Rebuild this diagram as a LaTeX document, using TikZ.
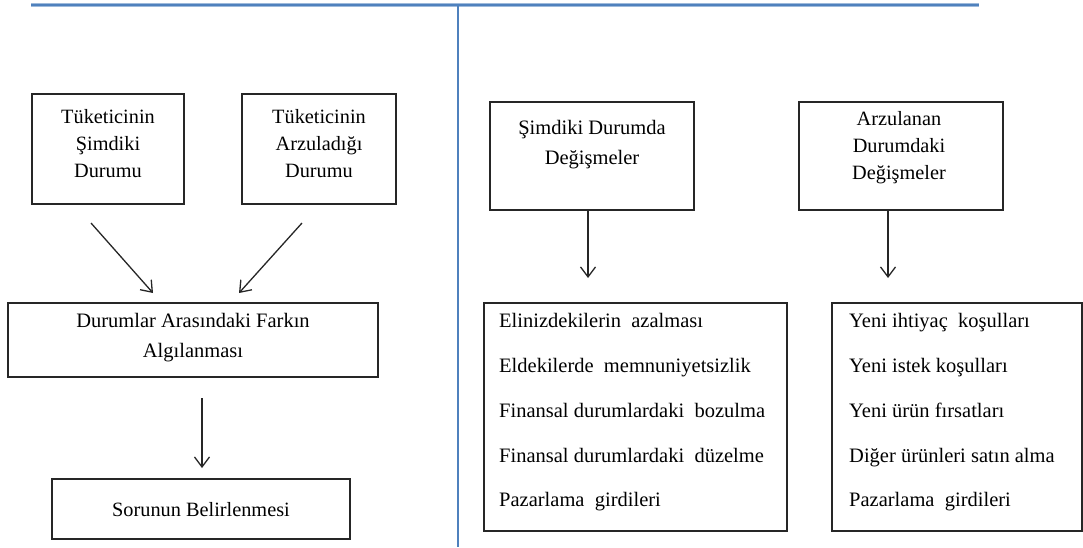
\documentclass[tikz,border=0pt]{standalone}
\usepackage{fontspec}
\setmainfont{Liberation Serif}
\usetikzlibrary{arrows.meta}
\definecolor{rulerblue}{HTML}{4F81BD}
\tikzset{
  box/.style={draw=black!85, line width=1.3pt, inner sep=0pt},
  txt/.style={inner sep=0pt, align=center, font=\fontsize{20.3}{27}\selectfont},
  listtxt/.style={inner sep=0pt, align=left, anchor=west, font=\fontsize{20.5}{44.75}\selectfont},
  flow/.style={line width=1.3pt, black!85, -{Straight Barb[length=10pt,width=15pt,line width=1.3pt]}},
  divider/.style={rulerblue, line width=1.6pt}
}
\begin{document}
\begin{tikzpicture}[x=1pt,y=-1pt]
\useasboundingbox (0,0) rectangle (1083,547);

% page rules
\coordinate (ruleL) at (31,5);
\coordinate (ruleR) at (979,5);
\coordinate (ruleTop) at (458,5);
\coordinate (ruleBot) at (458,547);
\draw[rulerblue!55, line width=3.4pt] (ruleL) -- (ruleR);
\draw[rulerblue, line width=2pt] (ruleL) -- (ruleR);
\draw[divider] (ruleTop) -- (ruleBot);

% left column: consumer states
\node[box, minimum width=152pt, minimum height=110pt] (cur) at (108,149) {};
\node[txt] (curT) at (108,143.5) {Tüketicinin\\Şimdiki\\Durumu};
\node[box, minimum width=154pt, minimum height=110pt] (des) at (319,149) {};
\node[txt] (desT) at (319,143.5) {Tüketicinin\\Arzuladığı\\Durumu};

\node[box, minimum width=370pt, minimum height=74pt] (gap) at (193,340) {};
\node[txt, font=\fontsize{20.5}{30}\selectfont] (gapT) at (193,338) {Durumlar Arasındaki Farkın\\Algılanması};

\node[box, minimum width=298pt, minimum height=60pt] (prob) at (201,509) {};
\node[txt] (probT) at (201,510) {Sorunun Belirlenmesi};

\coordinate (a1s) at (91,223);  \coordinate (a1e) at (153,293);
\coordinate (a2s) at (302,223); \coordinate (a2e) at (239,293);
\coordinate (a3s) at (202,398); \coordinate (a3e) at (202,468);
\draw[flow] (a1s) -- (a1e);
\draw[flow] (a2s) -- (a2e);
\draw[flow] (a3s) -- (a3e);

% right column: changes in the states
\node[box, minimum width=204pt, minimum height=108pt] (chA) at (592,156) {};
\node[txt, font=\fontsize{20.5}{30}\selectfont] (chAT) at (592,145) {Şimdiki Durumda\\Değişmeler};
\node[box, minimum width=204pt, minimum height=108pt] (chB) at (901,156) {};
\node[txt] (chBT) at (899,148) {Arzulanan\\Durumdaki\\Değişmeler};

\coordinate (bAe) at (588,278);
\coordinate (bBe) at (888,278);
\draw[flow] (chA.south -| bAe) -- (bAe);
\draw[flow] (chB.south -| bBe) -- (bBe);

\node[box, minimum width=303pt, minimum height=228pt] (listA) at (635.5,417) {};
\node[listtxt] (listAT) at (499,412.5) {Elinizdekilerin\ \ azalması\\Eldekilerde\ \ memnuniyetsizlik\\Finansal durumlardaki\ \ bozulma\\Finansal durumlardaki\ \ düzelme\\Pazarlama\ \ girdileri};
\node[box, minimum width=250pt, minimum height=228pt] (listB) at (957,417) {};
\node[listtxt] (listBT) at (849,412.5) {Yeni ihtiyaç\ \ koşulları\\Yeni istek koşulları\\Yeni ürün fırsatları\\Diğer ürünleri satın alma\\Pazarlama\ \ girdileri};
\end{tikzpicture}
\end{document}
